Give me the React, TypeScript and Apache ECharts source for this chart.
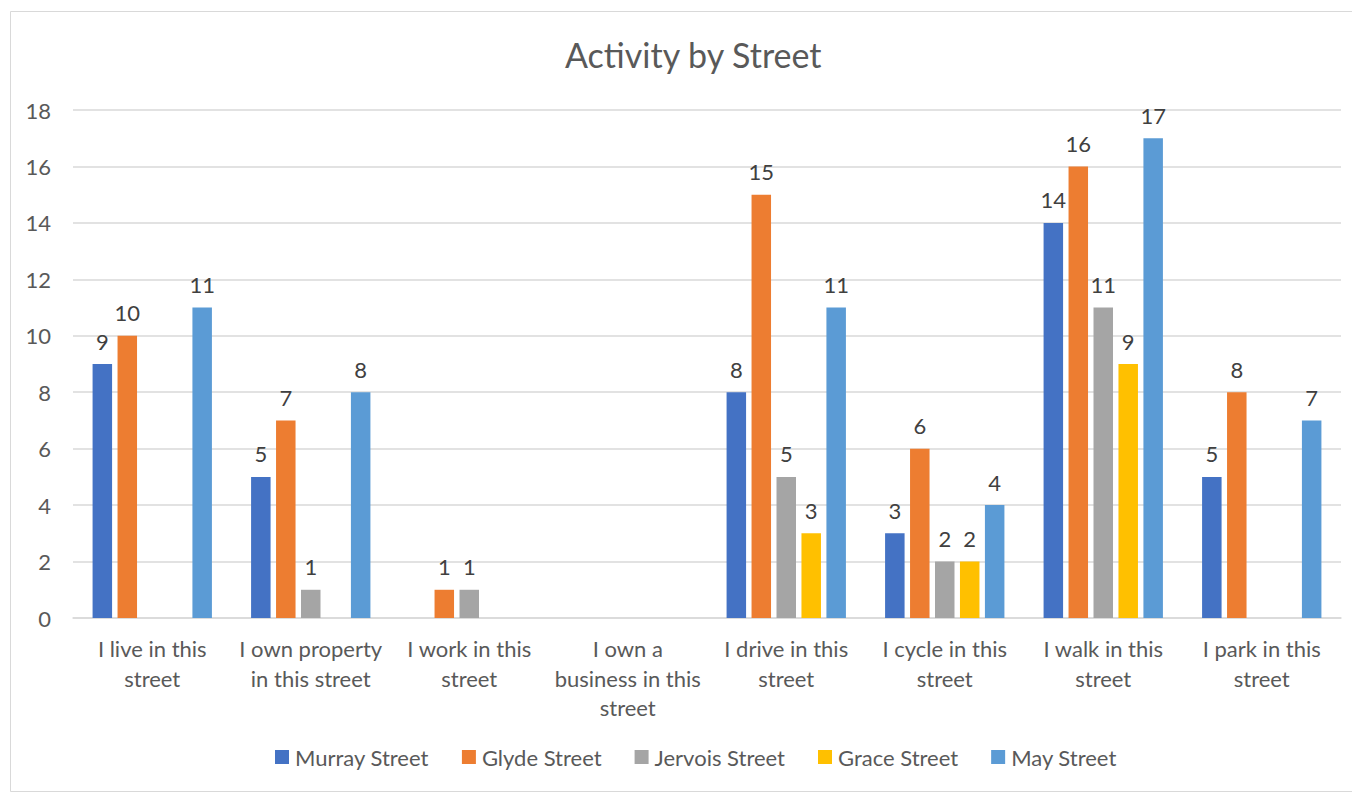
import React, { useEffect, useRef } from "react";
import * as echarts from "echarts";

const categories = [
  "I live in this\nstreet",
  "I own property\nin this street",
  "I work in this\nstreet",
  "I own a\nbusiness in this\nstreet",
  "I drive in this\nstreet",
  "I cycle in this\nstreet",
  "I walk in this\nstreet",
  "I park in this\nstreet",
];
const murray = [9, 5, null, null, 8, 3, 14, 5];
const glyde = [10, 7, 1, null, 15, 6, 16, 8];
const jervois = [null, 1, 1, null, 5, 2, 11, null];
const grace = [null, null, null, null, 3, 2, 9, null];
const may = [11, 8, null, null, 11, 4, 17, 7];
const seriesNames = ["Murray Street", "Glyde Street", "Jervois Street", "Grace Street", "May Street"];
const colors = ["#4472C4", "#ED7D31", "#A5A5A5", "#FFC000", "#5B9BD5"];

const FONT = "Lato, 'Open Sans', sans-serif";

export default function App() {
  const ref = useRef<HTMLDivElement>(null);
  useEffect(() => {
    if (!ref.current) return;
    const chart = echarts.init(ref.current, null, { renderer: "svg" });
    const data = [murray, glyde, jervois, grace, may];
    chart.setOption({
      animation: false,
      color: colors,
      textStyle: { fontFamily: FONT },
      title: {
        text: "Activity by Street",
        left: 552,
        top: 24,
        textStyle: { fontFamily: FONT, fontSize: 34, fontWeight: "normal", color: "#595959" },
      },
      graphic: [
        {
          type: "rect",
          shape: { x: 2.5, y: 3.5, width: 1347, height: 780 },
          style: { fill: "none", stroke: "#d9d9d9", lineWidth: 1 },
          silent: true,
        },
      ],
      legend: {
        data: seriesNames,
        bottom: 20,
        left: 262,
        itemWidth: 14,
        itemHeight: 14,
        itemGap: 33,
        icon: "rect",
        textStyle: { fontFamily: FONT, fontSize: 22, color: "#595959", padding: [0, 0, 0, 1] },
      },
      grid: { left: 65, right: 19, top: 102, bottom: 175, containLabel: false },
      xAxis: {
        type: "category",
        data: categories,
        axisLine: { lineStyle: { color: "#d9d9d9", width: 1.5 } },
        axisTick: { show: false },
        axisLabel: {
          fontFamily: FONT,
          fontSize: 22,
          color: "#595959",
          lineHeight: 29.5,
          margin: 16,
          interval: 0,
        },
      },
      yAxis: {
        type: "value",
        min: 0,
        max: 18,
        interval: 2,
        axisLine: { show: false },
        axisTick: { show: false },
        splitLine: { lineStyle: { color: "#d9d9d9", width: 1.5 } },
        axisLabel: { fontFamily: FONT, fontSize: 22, color: "#595959", margin: 22 },
      },
      series: seriesNames.map((name, i) => ({
        name,
        type: "bar",
        data: data[i],
        barWidth: 19.5,
        barGap: "28%",
        label: {
          show: true,
          position: "top",
          distance: 12,
          fontFamily: FONT,
          fontSize: 22,
          color: "#404040",
        },
      })),
    });
    return () => chart.dispose();
  }, []);
  return <div ref={ref} style={{ width: 1352, height: 785 }} />;
}
